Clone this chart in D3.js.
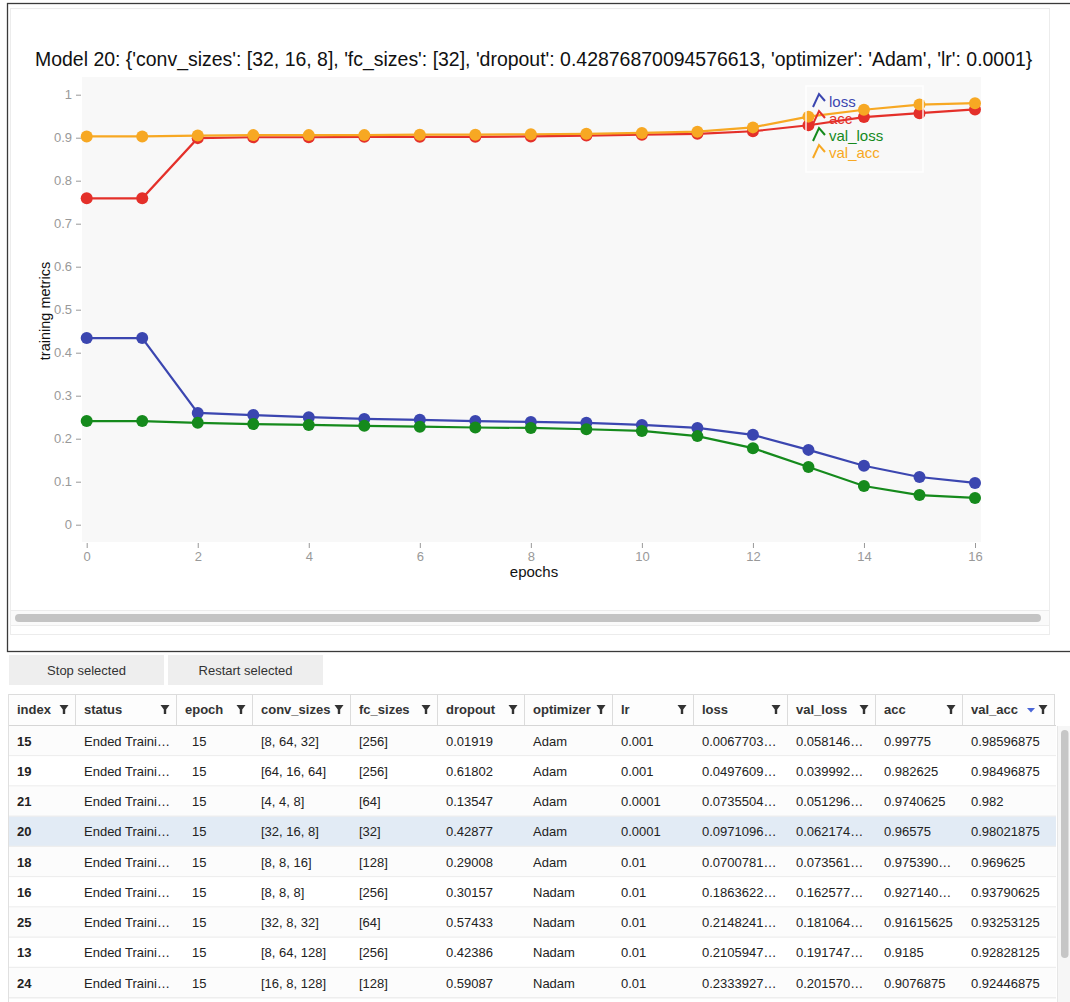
<!DOCTYPE html>
<html>
<head>
<meta charset="utf-8">
<script src="https://cdn.jsdelivr.net/npm/d3@7"></script>
<style>
  html, body { margin: 0; padding: 0; background: #fff; }
  svg { display: block; font-family: "Liberation Sans", Arial, Helvetica, sans-serif; }
</style>
</head>
<body>
<svg id="chart" width="1070" height="1002"></svg>
<script>
// ---------------- data ----------------
const titleText = "Model 20: {'conv_sizes': [32, 16, 8], 'fc_sizes': [32], 'dropout': 0.42876870094576613, 'optimizer': 'Adam', 'lr': 0.0001}";
const epochs = [0,1,2,3,4,5,6,7,8,9,10,11,12,13,14,15,16];
const loss    = [0.434,0.434,0.260,0.255,0.250,0.246,0.244,0.241,0.239,0.237,0.232,0.225,0.209,0.174,0.137,0.111,0.0971];
const acc     = [0.759,0.759,0.899,0.901,0.901,0.902,0.902,0.902,0.903,0.905,0.907,0.909,0.915,0.929,0.948,0.957,0.96575];
const valLoss = [0.241,0.241,0.237,0.234,0.232,0.230,0.228,0.226,0.225,0.222,0.218,0.206,0.178,0.134,0.090,0.069,0.0622];
const valAcc  = [0.903,0.903,0.905,0.906,0.906,0.906,0.907,0.907,0.908,0.909,0.911,0.914,0.924,0.949,0.965,0.977,0.98021875];
const seriesNames = ["loss","acc","val_loss","val_acc"];
const seriesColors = ["#3b46b0","#e4302a","#158a1c","#f7a823"];
const yTicks = [0,0.1,0.2,0.3,0.4,0.5,0.6,0.7,0.8,0.9,1];
const xTicks = [0,2,4,6,8,10,12,14,16];

const buttonLabels = ["Stop selected","Restart selected"];
const columns = ["index","status","epoch","conv_sizes","fc_sizes","dropout","optimizer","lr","loss","val_loss","acc","val_acc"];
const colIndex     = ["15","19","21","20","18","16","25","13","24"];
const colStatus    = Array(9).fill("Ended Traini\u2026");
const colEpoch     = Array(9).fill("15");
const colConv      = ["[8, 64, 32]","[64, 16, 64]","[4, 4, 8]","[32, 16, 8]","[8, 8, 16]","[8, 8, 8]","[32, 8, 32]","[8, 64, 128]","[16, 8, 128]"];
const colFc        = ["[256]","[256]","[64]","[32]","[128]","[256]","[64]","[256]","[128]"];
const colDropout   = ["0.01919","0.61802","0.13547","0.42877","0.29008","0.30157","0.57433","0.42386","0.59087"];
const colOptimizer = ["Adam","Adam","Adam","Adam","Adam","Nadam","Nadam","Nadam","Nadam"];
const colLr        = ["0.001","0.001","0.0001","0.0001","0.01","0.01","0.01","0.01","0.01"];
const colLoss      = ["0.0067703\u2026","0.0497609\u2026","0.0735504\u2026","0.0971096\u2026","0.0700781\u2026","0.1863622\u2026","0.2148241\u2026","0.2105947\u2026","0.2333927\u2026"];
const colValLoss   = ["0.058146\u2026","0.039992\u2026","0.051296\u2026","0.062174\u2026","0.073561\u2026","0.162577\u2026","0.181064\u2026","0.191747\u2026","0.201570\u2026"];
const colAcc       = ["0.99775","0.982625","0.9740625","0.96575","0.975390\u2026","0.927140\u2026","0.91615625","0.9185","0.9076875"];
const colValAcc    = ["0.98596875","0.98496875","0.982","0.98021875","0.969625","0.93790625","0.93253125","0.92828125","0.92446875"];
const selectedRow = 3;

// ---------------- drawing ----------------
const svg = d3.select("#chart");

// outer frame and inner panel
svg.append("rect").attr("x",7.5).attr("y",3.5).attr("width",1080).attr("height",648)
  .attr("fill","none").attr("stroke","#3a3a3a").attr("stroke-width",1.3);
svg.append("rect").attr("x",10.5).attr("y",8.5).attr("width",1039).attr("height",626)
  .attr("fill","#fff").attr("stroke","#ececec");

// title
const title = svg.append("text").attr("x",35).attr("y",66).attr("fill","#111")
  .style("font-size","17px").text(titleText);
const tw = title.node().getComputedTextLength();
title.style("font-size", (17*998/tw).toFixed(2)+"px");

const x = d3.scaleLinear().domain([0,16]).range([86.7,975]);
const y = d3.scaleLinear().domain([0,1]).range([524.7,94.7]);

// plot background
svg.append("rect").attr("x",82).attr("y",77).attr("width",899).attr("height",465).attr("fill","#f8f8f8");

// y axis
const yAxis = svg.append("g").attr("transform","translate(81,0)")
  .call(d3.axisLeft(y).tickValues(yTicks).tickSize(5).tickPadding(4).tickFormat(d => String(+d.toFixed(1))));
yAxis.select(".domain").remove();
yAxis.selectAll("line").attr("stroke","#999");
yAxis.selectAll("text").attr("fill","#999").style("font-size","13px").style("font-family","Liberation Sans, Arial, sans-serif");

// x axis
const xAxis = svg.append("g").attr("transform","translate(0,543)")
  .call(d3.axisBottom(x).tickValues(xTicks).tickSize(5).tickPadding(4));
xAxis.select(".domain").remove();
xAxis.selectAll("line").attr("stroke","#999");
xAxis.selectAll("text").attr("fill","#999").style("font-size","13px").style("font-family","Liberation Sans, Arial, sans-serif");

// axis labels
svg.append("text").attr("x",534).attr("y",577).attr("text-anchor","middle").attr("fill","#111")
  .style("font-size","15px").text("epochs");
svg.append("text").attr("transform","translate(50,311) rotate(-90)").attr("text-anchor","middle").attr("fill","#111")
  .style("font-size","14.5px").text("training metrics");

// series
const allSeries = [loss, acc, valLoss, valAcc];
const line = d3.line().x((d,i) => x(epochs[i])).y(d => y(d));
allSeries.forEach((s, k) => {
  const g = svg.append("g");
  g.append("path").datum(s).attr("d", line).attr("fill","none")
    .attr("stroke", seriesColors[k]).attr("stroke-width", 2.2);
  g.selectAll("circle").data(s).join("circle")
    .attr("cx",(d,i) => x(epochs[i])).attr("cy", d => y(d)).attr("r",6)
    .attr("fill", seriesColors[k]);
});

// legend
const lg = svg.append("g");
lg.append("rect").attr("x",806).attr("y",86).attr("width",117).attr("height",86)
  .attr("fill","none").attr("stroke","#fff").attr("stroke-width",1.5).attr("opacity",0.9);
seriesNames.forEach((n, k) => {
  const by = 107 + k*17;
  lg.append("path").attr("d", `M${813},${by} L${819},${by-13} L${825},${by-6}`)
    .attr("fill","none").attr("stroke",seriesColors[k]).attr("stroke-width",2);
  lg.append("text").attr("x",829).attr("y",by).attr("fill",seriesColors[k])
    .style("font-size","15px").text(n);
});

// horizontal scrollbar of the widget
svg.append("rect").attr("x",11).attr("y",610).attr("width",1038).attr("height",16).attr("fill","#fafafa");
svg.append("line").attr("x1",11).attr("x2",1049).attr("y1",610.5).attr("y2",610.5).attr("stroke","#ececec");
svg.append("line").attr("x1",11).attr("x2",1049).attr("y1",625.5).attr("y2",625.5).attr("stroke","#ececec");
svg.append("rect").attr("x",15).attr("y",614).attr("width",1026).attr("height",8).attr("rx",4).attr("fill","#c4c4c4");

// buttons
buttonLabels.forEach((b, i) => {
  const bx = 9 + i*159;
  svg.append("rect").attr("x",bx).attr("y",655).attr("width",155).attr("height",30).attr("fill","#eeeeee");
  svg.append("text").attr("x",bx+77.5).attr("y",675).attr("text-anchor","middle").attr("fill","#333")
    .style("font-size","13px").text(b);
});

// table
const colEdges = [8,75,176,252,350,437,524,612,693,787,875,962,1054];
const tableCols = [colIndex,colStatus,colEpoch,colConv,colFc,colDropout,colOptimizer,colLr,colLoss,colValLoss,colAcc,colValAcc];
const headTop = 694, headH = 31, rowH = 30.25;
const tb = svg.append("g");
tb.append("rect").attr("x",8).attr("y",headTop).attr("width",1046).attr("height",headH).attr("fill","#fdfdfd");
tb.append("line").attr("x1",8).attr("x2",1054).attr("y1",headTop+0.5).attr("y2",headTop+0.5).attr("stroke","#dcdcdc");
tb.append("line").attr("x1",8).attr("x2",1056).attr("y1",headTop+headH+0.5).attr("y2",headTop+headH+0.5).attr("stroke","#d6d6d6");
colEdges.forEach(e => {
  tb.append("line").attr("x1",e+0.5).attr("x2",e+0.5).attr("y1",headTop).attr("y2",headTop+headH).attr("stroke","#dcdcdc");
});
columns.forEach((c, j) => {
  tb.append("text").attr("x",colEdges[j]+9).attr("y",headTop+20).attr("fill","#333")
    .style("font-size","13px").style("font-weight","bold").text(c);
  const fx = colEdges[j+1]-11, fy = headTop+15.5;
  tb.append("path").attr("d",`M${fx-4.5},${fy-4.5} L${fx+4.5},${fy-4.5} L${fx+1.2},${fy} L${fx+1.2},${fy+4.5} L${fx-1.2},${fy+4.5} L${fx-1.2},${fy} Z`)
    .attr("fill","#333");
});
// sort indicator
tb.append("path").attr("d",`M1027,${headTop+14} L1035,${headTop+14} L1031,${headTop+18.5} Z`).attr("fill","#4a66d8");

// body rows
const bodyTop = headTop + headH + 1;
colIndex.forEach((v, r) => {
  const ry = bodyTop + r*rowH;
  tb.append("rect").attr("x",8).attr("y",ry).attr("width",1048).attr("height",rowH)
    .attr("fill", r === selectedRow ? "#e2ebf5" : (r % 2 === 0 ? "#fcfcfc" : "#ffffff"));
  tb.append("line").attr("x1",8).attr("x2",1056).attr("y1",ry+rowH-0.5).attr("y2",ry+rowH-0.5).attr("stroke","#eeeeee").attr("stroke-width",1.5);
  tableCols.forEach((col, j) => {
    tb.append("text").attr("x",colEdges[j]+(j===2?16:9)).attr("y",ry+19.5).attr("fill","#222")
      .style("font-size","13px").style("font-weight", j===0 ? "bold" : "normal").text(col[r]);
  });
});
tb.append("line").attr("x1",8.5).attr("x2",8.5).attr("y1",headTop).attr("y2",1002).attr("stroke","#e0e0e0");

// vertical scrollbar of table
svg.append("rect").attr("x",1057).attr("y",726).attr("width",13).attr("height",276).attr("fill","#f6f6f6");
svg.append("line").attr("x1",1057.5).attr("x2",1057.5).attr("y1",726).attr("y2",1002).attr("stroke","#e6e6e6");
svg.append("rect").attr("x",1061).attr("y",730).attr("width",7.5).attr("height",228).attr("rx",3.75).attr("fill","#c6c6c6");
</script>
</body>
</html>
